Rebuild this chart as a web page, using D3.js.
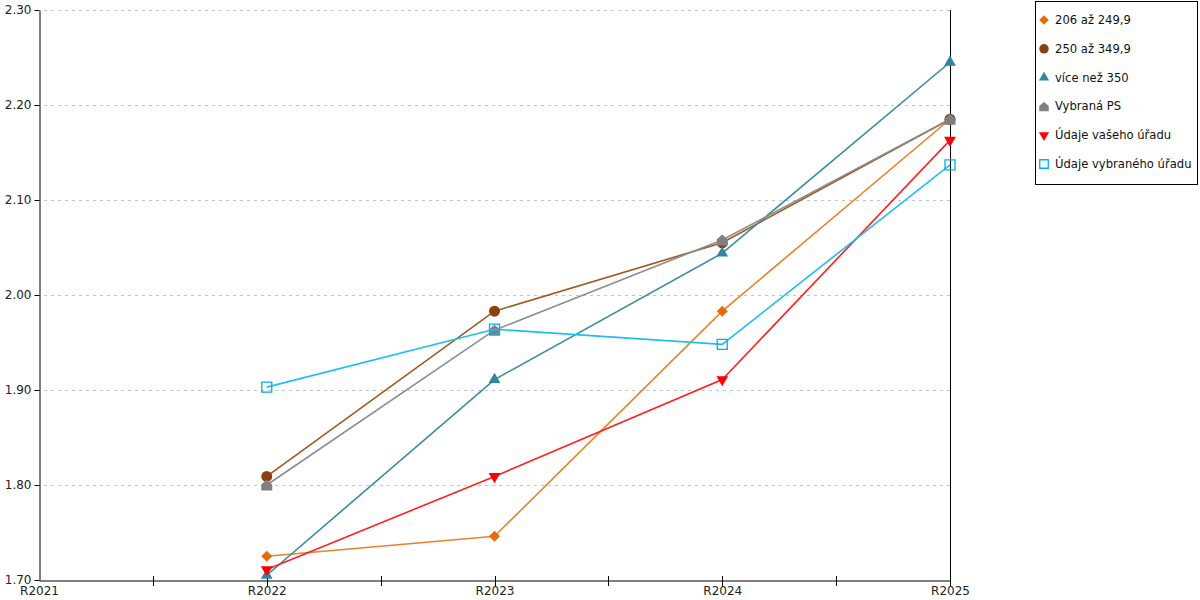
<!DOCTYPE html>
<html><head><meta charset="utf-8">
<script src="https://cdn.jsdelivr.net/npm/d3@7"></script>
<style>body{margin:0;background:#fff}svg{font-family:"DejaVu Sans",Verdana,sans-serif}</style>
</head><body><svg id="c" width="1200" height="600"></svg>
<script>
const categories = ["R2021","R2022","R2023","R2024","R2025"];
const yTicks = [1.70,1.80,1.90,2.00,2.10,2.20,2.30];
const seriesNames = ["206 až 249,9","250 až 349,9","více než 350","Vybraná PS","Údaje vašeho úřadu","Údaje vybraného úřadu"];
const s206 = [null,1.725,1.746,1.983,2.185];
const s250 = [null,1.809,1.983,2.055,2.185];
const s350 = [null,1.705,1.911,2.044,2.245];
const sPS = [null,1.800,1.963,2.058,2.185];
const sVas = [null,1.711,1.809,1.911,2.163];
const sVyb = [null,1.903,1.964,1.948,2.137];
const seriesValues = [s206,s250,s350,sPS,sVas,sVyb];
const lineColors = ["#E8832A","#A0561E","#3A8CA0","#8C8C8C","#FF2020","#1EBEF0"];
const markerColors = ["#E46C0A","#8B4010","#31859C","#808080","#FF0000","#00B0F0"];
const shapes = ["diamond","circle","triUp","house","triDown","square"];

const svg = d3.select("#c");
const x = d3.scalePoint().domain(categories).range([39,950]);
const y = d3.scaleLinear().domain([1.70,2.30]).range([580,10]);

// grid
svg.append("g").selectAll("line").data(yTicks.slice(1)).join("line")
  .attr("x1",44).attr("x2",950).attr("y1",d=>y(d)+0.5).attr("y2",d=>y(d)+0.5)
  .attr("stroke","#c4c4c4").attr("stroke-dasharray","3,4");

// y axis
const ya = svg.append("g").attr("transform","translate(39.5,0)")
  .call(d3.axisLeft(y).tickValues(yTicks).tickFormat(d3.format(".2f")).tickSize(5).tickSizeOuter(0));
ya.select(".domain").attr("stroke","#000");
ya.selectAll(".tick line").attr("stroke","#000");
ya.selectAll("text").attr("font-size",12).attr("fill","#222").attr("font-family","DejaVu Sans").attr("x",-8);

// x axis
const xa = svg.append("g").attr("transform","translate(0,580.5)")
  .call(d3.axisBottom(x).tickSize(0).tickSizeOuter(0));
xa.select(".domain").attr("stroke","#000");
xa.selectAll("text").attr("font-size",12).attr("fill","#222").attr("font-family","DejaVu Sans").attr("dy","0.35em").attr("y",10);
// major and minor ticks crossing the axis
const step = x.step();
const tickXs = [];
categories.forEach((c,i)=>{ tickXs.push(x(c)); if(i<categories.length-1) tickXs.push(x(c)+step/2); });
svg.append("g").selectAll("line").data(tickXs.slice(1)).join("line")
  .attr("x1",d=>Math.round(d)+0.5).attr("x2",d=>Math.round(d)+0.5).attr("y1",576).attr("y2",586)
  .attr("stroke","#000");
// right border
svg.append("line").attr("x1",950.5).attr("x2",950.5).attr("y1",10).attr("y2",580).attr("stroke","#000");

function markerPath(shape,size){
  const s=size, h=s/2;
  switch(shape){
    case "diamond": return `M0,${-h}L${h},0L0,${h}L${-h},0Z`;
    case "circle": return d3.symbol(d3.symbolCircle, s*s*0.78)();
    case "triUp": return d3.symbol(d3.symbolTriangle, s*s*0.5)();
    case "triDown": return d3.symbol(d3.symbolTriangle, s*s*0.5)();
    case "square": { const q=h-0.5; return `M${-q},${-q}H${q}V${q}H${-q}Z`; }
    case "house": return `M${-h},${h}V${-h*0.1}L0,${-h}L${h},${-h*0.1}V${h}Z`;
  }
}
function drawMarker(g,shape,i,cx,cy,size){
  const p = g.append("path").attr("d",markerPath(shape,size))
    .attr("transform",`translate(${cx},${cy})${shape==="triDown"?" rotate(180)":""}`);
  if(shape==="square") p.attr("fill","#fff").attr("fill-opacity",0).attr("stroke",markerColors[i]).attr("stroke-width",1.3);
  else p.attr("fill",markerColors[i]);
}

const line = d3.line().defined(d=>d.v!=null).x(d=>x(d.c)).y(d=>y(d.v));
seriesValues.forEach((vals,i)=>{
  const data = categories.map((c,j)=>({c,v:vals[j]}));
  const g = svg.append("g");
  g.append("path").datum(data).attr("d",line).attr("fill","none")
    .attr("stroke",lineColors[i]).attr("stroke-width",1.6);
  data.filter(d=>d.v!=null).forEach(d=>drawMarker(g,shapes[i],i,x(d.c),y(d.v),11));
});

// legend
const lg = svg.append("g");
lg.append("rect").attr("x",1035.5).attr("y",1.5).attr("width",162).attr("height",183)
  .attr("fill","#fff").attr("stroke","#000");
seriesNames.forEach((n,i)=>{
  const cy = 20 + i*28.8;
  drawMarker(lg,shapes[i],i,1044,cy,9.5);
  lg.append("text").attr("x",1055).attr("y",cy).attr("dy","0.35em")
    .attr("font-size",11.6).attr("fill","#111").text(n);
});
</script></body></html>
